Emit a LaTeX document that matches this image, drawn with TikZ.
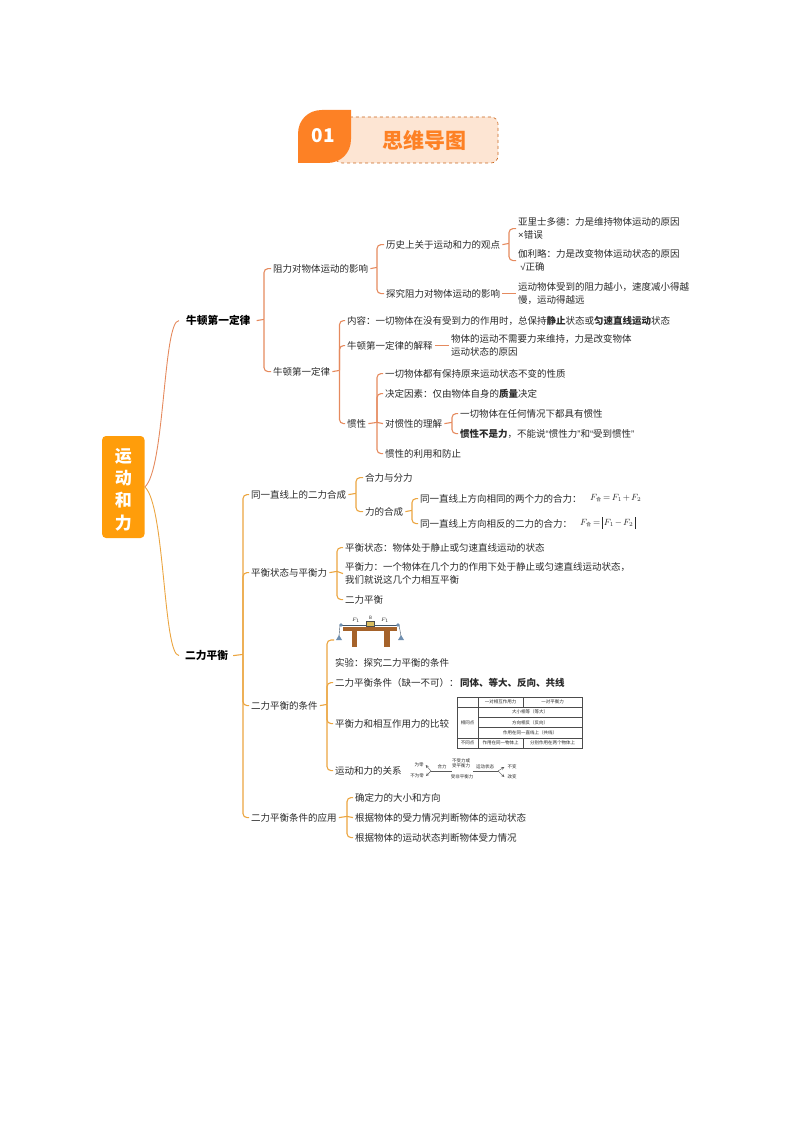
\documentclass[tikz,border=0pt]{standalone}
\usepackage{fontspec}
\setmainfont{Noto Sans CJK SC}
\newfontfamily\latinq{Liberation Sans}
\usepackage{tikz}
\newcommand{\bb}[1]{\textbf{#1}}
\newcommand{\qt}[1]{{\latinq“}#1{\latinq”}}
\newcommand{\fhe}{F_{\mbox{\tiny 合}}}
\newcommand{\tallbar}{\rule[-3.5pt]{0.45pt}{12pt}}
\definecolor{rootorange}{HTML}{FF9D0A}
\definecolor{titleorange}{HTML}{FD8125}
\definecolor{titlepale}{HTML}{FDE5D3}
\definecolor{redline}{HTML}{E58A5E}
\definecolor{amberline}{HTML}{EBA540}
\definecolor{inkgrey}{HTML}{2A2A2A}
\definecolor{wood}{HTML}{A5622A}
\definecolor{pulley}{HTML}{6F8FB0}
\tikzset{
  topic/.style={anchor=west,inner sep=2pt,yshift=-0.6pt,align=left,text=inkgrey,font=\fontsize{9.5}{13}\selectfont},
  major/.style={anchor=west,inner sep=2pt,yshift=-0.6pt,font=\fontsize{10.7}{13}\selectfont\bfseries,text=black},
  formula/.style={anchor=west,inner sep=0pt,text=inkgrey,font=\fontsize{9}{11}\selectfont},
  tiny/.style={inner sep=0pt,align=center,text=black!85,font=\fontsize{4.5}{5.2}\selectfont},
  redlink/.style={draw=redline,line width=1.1pt,rounded corners=4pt},
  amberlink/.style={draw=amberline,line width=1.1pt,rounded corners=4pt},
  thinline/.style={draw=black!65,line width=0.4pt},
  grid/.style={draw=black!70,line width=0.45pt}
}
\begin{document}
\begin{tikzpicture}[x=1pt,y=-1pt]
    \useasboundingbox (0,0) rectangle (794,1123);

    % title
    \filldraw[fill=titlepale,draw=titleorange!80!black,dashed,line width=0.6pt,rounded corners=7pt] (335,117) rectangle (498,163);
    \fill[titleorange] (298,163) -- (298,134) .. controls (298,120) and (308,110) .. (322,110) -- (351,110) -- (351,139) .. controls (351,153) and (341,163) .. (327,163) -- cycle;
    \node[inner sep=0pt,text=white,font=\fontsize{19}{22}\selectfont\bfseries] (num) at (323,136) {01};
    \node[inner sep=0pt,text=titleorange,font=\fontsize{21}{24}\selectfont\bfseries] (head) at (424,140) {思维导图};

    % root
    \node[fill=rootorange,rounded corners=4pt,minimum width=42.5pt,minimum height=102pt,inner sep=0pt,align=center,text=white,font=\fontsize{17}{22.3}\selectfont\bfseries] (root) at (123.3,487) {\rule{0pt}{19pt}运\\动\\和\\力};
    \node[major] (law) at (184,320) {牛顿第一定律};
    \node[major] (bal) at (183,655) {二力平衡};
    \draw[draw=redline,line width=0.9pt] (root.east) .. controls (165,470) and (163,320) .. ([xshift=-5pt]law.west);
    \draw[draw=amberline,line width=0.9pt] (root.east) .. controls (165,504) and (163,655) .. ([xshift=-4pt]bal.west);

    % first law, upper half
    \node[topic] (resist) at (271,268) {阻力对物体运动的影响};
    \node[topic] (law2) at (271,371) {牛顿第一定律};
    \coordinate (s1) at (264,319.4);
    \draw[redlink] ([xshift=4pt]law.east) -- (s1);
    \draw[redlink] (s1) |- (resist.west);
    \draw[redlink] (s1) |- (law2.west);

    \node[topic] (views) at (384,244) {历史上关于运动和力的观点};
    \node[topic] (probe) at (384,293) {探究阻力对物体运动的影响};
    \coordinate (s2) at (377,267.4);
    \draw[redlink] (resist.east) -- (s2);
    \draw[redlink] (s2) |- (views.west);
    \draw[redlink] (s2) |- (probe.west);

    \node[topic] (arist) at (516,228) {亚里士多德：力是维持物体运动的原因\\{\latinq ×}错误};
    \node[topic] (galil) at (516,260) {伽利略：力是改变物体运动状态的原因\\\ {\latinq √}正确};
    \coordinate (s3) at (509,243.4);
    \draw[redlink] (views.east) -- (s3);
    \draw[redlink] (s3) |- (arist.west);
    \draw[redlink] (s3) |- (galil.west);

    \node[topic] (slow) at (516,293) {运动物体受到的阻力越小，速度减小得越\\慢，运动得越远};
    \draw[redlink] (probe.east) -- (slow.west);

    % first law, lower half
    \node[topic] (content) at (345,320) {内容：一切物体在没有受到力的作用时，总保持\bb{静止}状态或\bb{匀速直线运动}状态};
    \node[topic] (expl) at (345,345) {牛顿第一定律的解释};
    \node[topic] (iner) at (345,423) {惯性};
    \coordinate (s4) at (339.5,370.4);
    \draw[redlink] (law2.east) -- (s4);
    \draw[redlink] (s4) |- (content.west);
    \draw[redlink] (s4) |- (expl.west);
    \draw[redlink] (s4) |- (iner.west);

    \node[topic] (explb) at (449,345) {物体的运动不需要力来维持，力是改变物体\\运动状态的原因};
    \draw[redlink] (expl.east) -- (explb.west);

    \node[topic] (i1) at (383,373) {一切物体都有保持原来运动状态不变的性质};
    \node[topic] (i2) at (383,393) {决定因素：仅由物体自身的\bb{质量}决定};
    \node[topic] (i3) at (383,423) {对惯性的理解};
    \node[topic] (i4) at (383,453) {惯性的利用和防止};
    \coordinate (s5) at (377,422.4);
    \draw[redlink] (iner.east) -- (s5);
    \draw[redlink] (s5) |- (i1.west);
    \draw[redlink] (s5) |- (i2.west);
    \draw[redlink] (s5) -- (i3.west);
    \draw[redlink] (s5) |- (i4.west);

    \node[topic] (j1) at (458,413) {一切物体在任何情况下都具有惯性};
    \node[topic] (j2) at (458,433) {\bb{惯性不是力}，不能说\qt{惯性力}和\qt{受到惯性}};
    \coordinate (s6) at (452,422.4);
    \draw[redlink] (i3.east) -- (s6);
    \draw[redlink] (s6) |- (j1.west);
    \draw[redlink] (s6) |- (j2.west);

    % balance of two forces
    \node[topic] (same) at (249,494) {同一直线上的二力合成};
    \node[topic] (state) at (249,572) {平衡状态与平衡力};
    \node[topic] (cond) at (249,705) {二力平衡的条件};
    \node[topic] (apply) at (249,817) {二力平衡条件的应用};
    \coordinate (s7) at (243,654.4);
    \draw[amberlink] ([xshift=3pt]bal.east) -- (s7);
    \draw[amberlink] (s7) |- (same.west);
    \draw[amberlink] (s7) |- (state.west);
    \draw[amberlink] (s7) |- (cond.west);
    \draw[amberlink] (s7) |- (apply.west);

    \node[topic] (comp) at (363,477) {合力与分力};
    \node[topic] (resul) at (363,511) {力的合成};
    \coordinate (s8) at (356,493.4);
    \draw[amberlink] (same.east) -- (s8);
    \draw[amberlink] (s8) |- (comp.west);
    \draw[amberlink] (s8) |- (resul.west);

    \node[topic] (r1) at (418,498) {同一直线上方向相同的两个力的合力：};
    \node[topic] (r2) at (418,523) {同一直线上方向相反的二力的合力：};
    \coordinate (s9) at (412,510.4);
    \draw[amberlink] (resul.east) -- (s9);
    \draw[amberlink] (s9) |- (r1.west);
    \draw[amberlink] (s9) |- (r2.west);
    \node[formula] (f1) at (590,498) {$\medmuskip=2mu\thickmuskip=3mu\fhe=F_1+F_2$};
    \node[formula] (f2) at (580,523) {$\medmuskip=2mu\thickmuskip=3mu\fhe=\tallbar\,F_1-F_2\,\tallbar$};

    \node[topic] (st1) at (343,547) {平衡状态：物体处于静止或匀速直线运动的状态};
    \node[topic] (st2) at (343,573) {平衡力：一个物体在几个力的作用下处于静止或匀速直线运动状态，\\我们就说这几个力相互平衡};
    \node[topic] (st3) at (343,599) {二力平衡};
    \coordinate (s10) at (337,571.4);
    \draw[amberlink] (state.east) -- (s10);
    \draw[amberlink] (s10) |- (st1.west);
    \draw[amberlink] (s10) -- (st2.west);
    \draw[amberlink] (s10) |- (st3.west);

    \coordinate (pic) at (334,640);
    \node[topic] (c1) at (333,662) {实验：探究二力平衡的条件};
    \node[topic] (c2) at (333,682) {二力平衡条件（缺一不可）：\hspace{1.5pt}\bb{同体、等大、反向、共线}};
    \node[topic] (c3) at (333,723) {平衡力和相互作用力的比较};
    \node[topic] (c4) at (333,770) {运动和力的关系};
    \coordinate (s11) at (327,704.4);
    \draw[amberlink] (cond.east) -- (s11);
    \draw[amberlink] (s11) |- (pic);
    \draw[amberlink] (s11) |- (c2.west);
    \draw[amberlink] (s11) |- (c3.west);
    \draw[amberlink] (s11) |- (c4.west);

    \node[topic] (a1) at (353,797) {确定力的大小和方向};
    \node[topic] (a2) at (353,817) {根据物体的受力情况判断物体的运动状态};
    \node[topic] (a3) at (353,837) {根据物体的运动状态判断物体受力情况};
    \coordinate (s12) at (347,816.4);
    \draw[amberlink] (apply.east) -- (s12);
    \draw[amberlink] (s12) |- (a1.west);
    \draw[amberlink] (s12) -- (a2.west);
    \draw[amberlink] (s12) |- (a3.west);

    % apparatus
    \fill[wood] (343,627) rectangle (397,631);
    \fill[wood] (352,631) rectangle (357,647);
    \fill[wood] (384,631) rectangle (390,647);
    \fill[wood!60!yellow!70!white] (366,621) rectangle (374,626);
    \draw[draw=black!70,line width=0.2pt] (366,621) rectangle (374,626);
    \draw[pulley!60!black,line width=0.5pt] (341,625) -- (366,625);
    \draw[pulley!60!black,line width=0.5pt] (374,625) -- (398,625);
    \draw[pulley!60!black,line width=0.4pt] (340,625) -- (339,636);
    \draw[pulley!60!black,line width=0.4pt] (399,625) -- (401,636);
    \fill[pulley] (341,625) circle (1.8);
    \fill[pulley] (398,625) circle (1.8);
    \fill[pulley] (339,635) -- (342,640) -- (336,640) -- cycle;
    \fill[pulley] (401,635) -- (404,640) -- (398,640) -- cycle;
    \node[tiny] (blk) at (370.5,618) {B};
    \node[tiny] (fa) at (356,620.5) {$F_1$};
    \node[tiny] (fb) at (385,620.5) {$F_1$};

    % comparison table
    \draw[grid] (457,697) rectangle (582,748);
    \draw[grid] (457,707) -- (582,707);
    \draw[grid] (478,717) -- (582,717);
    \draw[grid] (478,727.5) -- (582,727.5);
    \draw[grid] (457,738) -- (582,738);
    \draw[grid] (478,697) -- (478,748);
    \draw[grid] (523,697) -- (523,707);
    \draw[grid] (523,738) -- (523,748);
    \node[tiny] (t1) at (500.5,702) {一对相互作用力};
    \node[tiny] (t2) at (552.5,702) {一对平衡力};
    \node[tiny] (t3) at (530,712) {大小相等（等大）};
    \node[tiny] (t4) at (530,722.3) {方向相反（反向）};
    \node[tiny] (t5) at (530,732.7) {作用在同一直线上（共线）};
    \node[tiny] (t6) at (467.5,722.5) {相同点};
    \node[tiny] (t7) at (467.5,743) {不同点};
    \node[tiny] (t8) at (500.5,743) {作用在同一物体上};
    \node[tiny] (t9) at (552.5,743) {分别作用在两个物体上};

    % force and motion
    \node[tiny] (zero) at (419,765) {为零};
    \node[tiny] (nonz) at (417,776) {不为零};
    \node[tiny] (net) at (442,767) {合力};
    \node[tiny] (nof) at (461,763.5) {不受力或\\受平衡力};
    \node[tiny] (unb) at (462,777) {受非平衡力};
    \node[tiny] (mot) at (485,767) {运动状态};
    \node[tiny] (keep) at (512,767) {不变};
    \node[tiny] (chg) at (512,777) {改变};
    \coordinate (k1) at (431,771);
    \coordinate (k2) at (452,771);
    \coordinate (k3) at (473,771);
    \coordinate (k4) at (498,771);
    \draw[thinline,<-,>=stealth] ([xshift=2pt]zero.east) -- (k1);
    \draw[thinline,<-,>=stealth] ([xshift=2pt]nonz.east) -- (k1);
    \draw[thinline] (k1) -- (k2);
    \draw[thinline] (k3) -- (k4);
    \draw[thinline,->,>=stealth] (k4) -- ([xshift=-3pt]keep.west);
    \draw[thinline,->,>=stealth] (k4) -- ([xshift=-3pt]chg.west);
\end{tikzpicture}
\end{document}
